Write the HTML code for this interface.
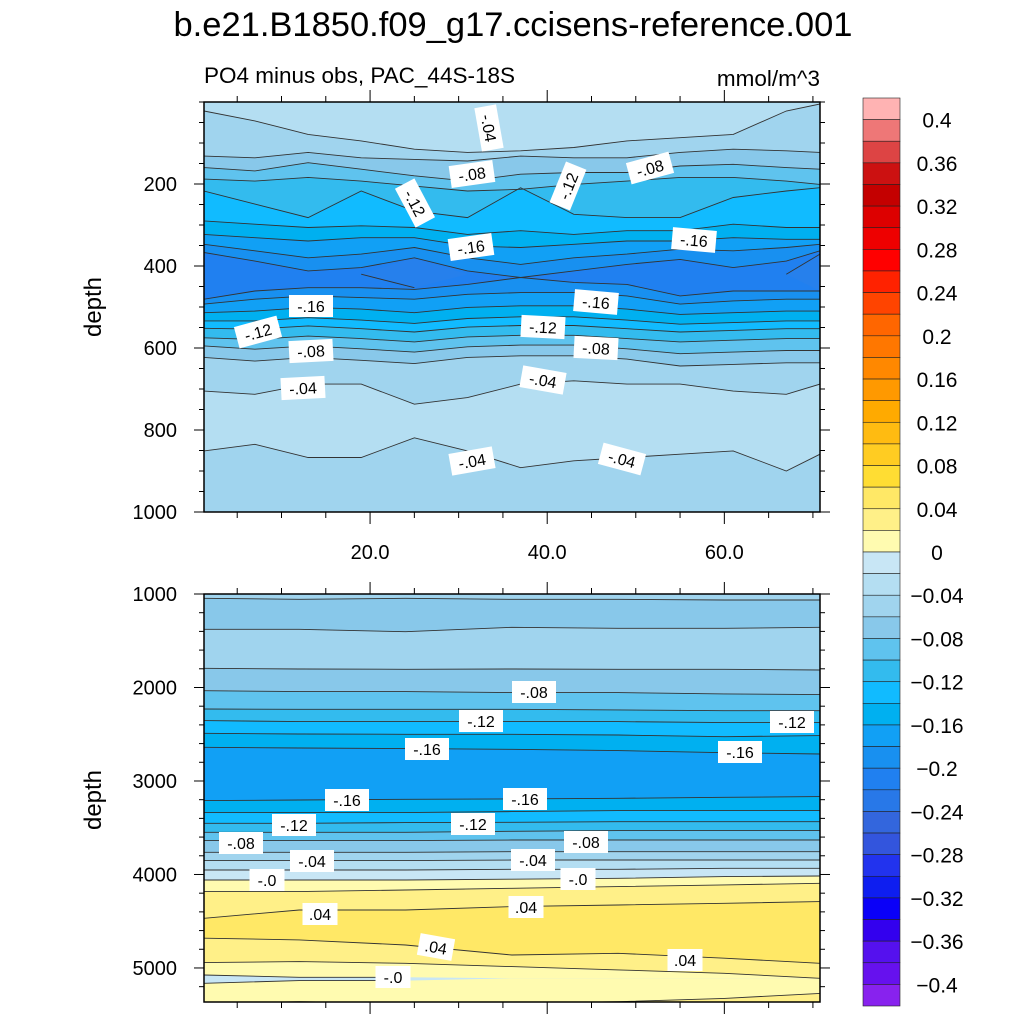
<!DOCTYPE html>
<html><head><meta charset="utf-8"><style>
html,body{margin:0;padding:0;background:#fff;}
svg{display:block;font-family:"Liberation Sans",sans-serif;}
</style></head><body>
<svg id="chart" width="1024" height="1024" viewBox="0 0 1024 1024" xmlns="http://www.w3.org/2000/svg">
<text x="513" y="36" font-size="34.5" text-anchor="middle">b.e21.B1850.f09_g17.ccisens-reference.001</text>
<text x="204" y="83" font-size="22.5">PO4 minus obs, PAC_44S-18S</text>
<text x="820" y="86" font-size="22.5" text-anchor="end">mmol/m^3</text>
<text transform="translate(101,307) rotate(-90)" font-size="24" text-anchor="middle">depth</text>
<text transform="translate(101,800) rotate(-90)" font-size="24" text-anchor="middle">depth</text>
<g id="top"></g><g id="bot"></g><g id="cbar"></g>
</svg>
<script>
// ---- data ----
const topXs = [1.25, 7, 13, 19, 25, 31, 37, 43, 49, 55, 61, 67, 70.8];
const topLevels = [-0.04,-0.06,-0.08,-0.10,-0.12,-0.14,-0.16,-0.18,-0.20,-0.22,-0.22,-0.20,-0.18,-0.16,-0.14,-0.12,-0.10,-0.08,-0.06,-0.04,-0.04];
const topBelow = ['#A0D4EE','#88C8EA','#5FC3EE','#33BBEE','#11BBFF','#00B0F0','#11A0F5','#1890F0','#2080F0','#2680EC','#2080F0','#1890F0','#11A0F5','#00B0F0','#11BBFF','#33BBEE','#5FC3EE','#88C8EA','#A0D4EE','#B4DEF2','#A0D4EE'];
const topDepths = [
 [22,46,79,95,115,123,119,111,95,87,79,22,5],
 [132,136,123,136,140,144,132,136,136,123,115,119,123],
 [160,168,148,164,180,193,176,172,172,156,152,160,164],
 [188,193,184,193,205,217,213,201,193,184,184,193,201],
 [217,249,282,217,266,282,209,274,282,282,233,217,209],
 [290,298,306,302,306,323,314,323,314,314,298,306,306],
 [323,331,339,331,331,351,355,347,339,339,331,335,335],
 [347,363,380,371,355,380,396,380,371,359,363,355,347],
 [367,388,412,404,380,412,428,412,396,384,404,388,363],
 [420,420,420,420,380,420,428,420,420,420,420,420,371],
 [420,420,420,420,453,420,428,420,420,420,420,420,461],
 [481,461,453,453,457,445,428,440,445,473,461,461,461],
 [493,481,473,477,481,469,465,465,473,493,485,481,481],
 [514,510,501,505,514,501,497,497,505,518,514,510,510],
 [534,534,526,532,540,528,524,524,532,542,538,534,534],
 [552,554,546,553,561,549,545,545,553,561,557,553,553],
 [575,579,571,577,585,573,569,569,577,585,581,577,577],
 [595,603,595,602,610,597,593,593,602,614,610,606,606],
 [623,632,623,630,638,623,619,619,627,644,640,636,636],
 [705,713,688,688,737,721,688,680,688,688,705,713,688],
 [851,835,867,867,819,851,892,875,867,859,851,900,859]
];
const botXs = [1.25, 12, 24, 36, 48, 60, 70.8];
const botBelow = ['#88C8EA','#A0D4EE','#88C8EA','#5FC3EE','#33BBEE','#11BBFF','#00B0F0','#11A0F5','#00B0F0','#11BBFF','#33BBEE','#5FC3EE','#88C8EA','#A0D4EE','#B4DEF2','#C8E6F5','#FFFBB0','#FFF088','#FFE866','#FFF088','#FFFBB0','#C8E6F5','#FFFBB0','#FFF088'];
const botDepths = [
 [1046,1057,1046,1057,1057,1064,1064],
 [1378,1378,1403,1356,1367,1367,1356],
 [1795,1802,1805,1802,1805,1805,1813],
 [2034,2044,2044,2055,2055,2069,2076],
 [2230,2233,2233,2233,2240,2248,2248],
 [2354,2365,2365,2365,2365,2376,2376],
 [2490,2497,2501,2501,2508,2526,2515],
 [2640,2647,2654,2661,2675,2697,2711],
 [3210,3203,3196,3192,3185,3174,3167],
 [3338,3338,3338,3328,3317,3317,3317],
 [3453,3453,3445,3442,3435,3435,3435],
 [3549,3549,3549,3538,3531,3531,3531],
 [3638,3638,3638,3631,3631,3631,3631],
 [3763,3763,3763,3756,3756,3756,3756],
 [3852,3852,3852,3845,3845,3845,3845],
 [3952,3952,3952,3945,3945,3934,3934],
 [4059,4059,4059,4051,4041,4023,4016],
 [4183,4183,4166,4148,4130,4112,4094],
 [4469,4380,4380,4344,4326,4308,4290],
 [4682,4700,4754,4861,4843,4896,4950],
 [4943,4932,4950,4985,5021,5057,5110],
 [5075,5100,5100,5110,5110,5110,5110],
 [5164,5135,5135,5110,5110,5110,5110],
 [5378,5361,5378,5378,5361,5325,5272]
];
const topLabels = [['-.04',489,128,80],['-.08',472,174,-8],['-.12',415,203,62],['-.12',568,186,-68],['-.08',650,168,-15],['-.16',471,247,-8],['-.16',694,240,5],['-.16',311,306,0],['-.16',596,302,5],['-.12',258,332,-15],['-.12',543,327,3],['-.08',311,351,-3],['-.08',596,348,3],['-.04',303,388,-3],['-.04',543,380,10],['-.04',472,461,-10],['-.04',622,459,15]];
const botLabels = [['-.08',534,692,0],['-.12',481,721,0],['-.12',792,722,0],['-.16',427,749,0],['-.16',740,752,0],['-.16',347,800,0],['-.16',525,799,0],['-.12',294,825,0],['-.12',473,824,0],['-.08',241,843,0],['-.08',586,842,0],['-.04',312,861,0],['-.04',533,860,0],['-.0',267,880,0],['-.0',578,879,0],['.04',320,914,0],['.04',526,907,0],['.04',436,947,10],['.04',685,960,0],['-.0',393,977,0]];
const cbColors = ['#FFB3B3','#EE7777','#DD4444','#CC1111','#C40000','#DD0000','#EE0000','#FF0000','#FF2200','#FF4400','#FF6600','#FF7700','#FF8800','#FF9900','#FFAA00','#FFBB11','#FFCC22','#FFDD33','#FFE866','#FFF088','#FFFBB0','#C8E6F5','#B4DEF2','#A0D4EE','#88C8EA','#5FC3EE','#33BBEE','#11BBFF','#00B0F0','#11A0F5','#1890F0','#2080F0','#2878E8','#3366DD','#3355DD','#2233EE','#0E1EF0','#0A00F8','#3300EE','#5511EE','#6611EE','#8822EE'];
const cbLabels = ['0.4','0.36','0.32','0.28','0.24','0.2','0.16','0.12','0.08','0.04','0','-0.04','-0.08','-0.12','-0.16','-0.2','-0.24','-0.28','-0.32','-0.36','-0.4'];
const topYTicks = [200,400,600,800,1000];
const botYTicks = [1000,2000,3000,4000,5000];
const xTicks = [20,40,60];

// ---- drawing ----
const NS='http://www.w3.org/2000/svg';
function mk(tag,attrs,parent){const e=document.createElementNS(NS,tag);for(const k in attrs)e.setAttribute(k,attrs[k]);parent.appendChild(e);return e;}
const X0=204,X1=820,xMin=1.25,xMax=70.8;
const sx=v=>X0+(v-xMin)/(xMax-xMin)*(X1-X0);

function panel(gid,Y0,Y1,dMin,dMax,xs,depths,below,topColor,labels,yTicks,minorStep,showX,name){
  const g=document.getElementById(gid);
  const sy=d=>Y0+(d-dMin)/(dMax-dMin)*(Y1-Y0);
  const cid='clip-'+gid;
  const defs=mk('defs',{},g);const cp=mk('clipPath',{id:cid},defs);mk('rect',{x:X0,y:Y0,width:X1-X0,height:Y1-Y0},cp);
  const fg=mk('g',{'clip-path':'url(#'+cid+')'},g);
  const bg=mk('rect',{x:X0,y:Y0,width:X1-X0,height:Y1-Y0,fill:topColor},fg);
  
  
  depths.forEach((arr,i)=>{
    let pts=xs.map((x,j)=>sx(x).toFixed(1)+','+sy(arr[j]).toFixed(1));
    pts.push(X1+','+(Y1+5),X0+','+(Y1+5));
    const p=mk('polygon',{points:pts.join(' '),fill:below[i]},fg);
    
    
  });
  // contour lines: only draw segments where the line is not coincident with the previous (zero-thickness) one
  depths.forEach((arr,i)=>{
    const prev=depths[i-1], next=depths[i+1];
    let seg=[];
    const flush=()=>{ if(seg.length>1){
      const l=mk('polyline',{points:seg.join(' '),fill:'none',stroke:'#333','stroke-width':0.9},fg);
      
      
    } seg=[]; };
    xs.forEach((x,j)=>{
      const flat=(prev&&prev[j]===arr[j]&&((j>0&&prev[j-1]===arr[j-1])||(j<xs.length-1&&prev[j+1]===arr[j+1])))||
                 (next&&next[j]===arr[j]&&((j>0&&next[j-1]===arr[j-1])||(j<xs.length-1&&next[j+1]===arr[j+1])));
      const coincident=(prev&&prev[j]===arr[j])||(next&&next[j]===arr[j]);
      seg.push(sx(x).toFixed(1)+','+sy(arr[j]).toFixed(1));
      if(coincident && j>0){
        const pj=j-1;
        const prevCo=(prev&&prev[pj]===arr[pj])||(next&&next[pj]===arr[pj]);
        if(prevCo){ seg.pop(); seg.pop(); flush(); seg.push(sx(x).toFixed(1)+','+sy(arr[j]).toFixed(1)); }
      }
    });
    flush();
  });
  labels.forEach(([t,x,y,r])=>{
    const lg=mk('g',{transform:`translate(${x},${y}) rotate(${r})`},g);
    
    
    const w=t.length*9+8;
    mk('rect',{x:-w/2,y:-11,width:w,height:22,fill:'#fff'},lg);
    const tx=mk('text',{x:0,y:6,'font-size':16,'text-anchor':'middle'},lg);tx.textContent=t;
  });
  const fr=mk('rect',{x:X0,y:Y0,width:X1-X0,height:Y1-Y0,fill:'none',stroke:'#000','stroke-width':1.5},g);
  
  
  for(let d=Math.ceil(dMin/minorStep)*minorStep;d<=dMax;d+=minorStep){
    const major=yTicks.includes(d);const L=major?10:5;const y=sy(d);
    mk('line',{x1:X0,x2:X0-L,y1:y,y2:y,stroke:'#000','stroke-width':1},g);
    mk('line',{x1:X1,x2:X1+L,y1:y,y2:y,stroke:'#000','stroke-width':1},g);
  }
  yTicks.forEach(d=>{const t=mk('text',{x:X0-27,y:sy(d)+7,'font-size':20,'text-anchor':'end'},g);t.textContent=d;
    
    });
  for(let v=5;v<=70;v+=5){
    const major=xTicks.includes(v);const L=major?12:6;const x=sx(v);
    mk('line',{x1:x,x2:x,y1:Y0,y2:Y0-L,stroke:'#000','stroke-width':1},g);
    mk('line',{x1:x,x2:x,y1:Y1,y2:Y1+L,stroke:'#000','stroke-width':1},g);
  }
  if(showX) xTicks.forEach(v=>{const t=mk('text',{x:sx(v),y:Y1+47,'font-size':20,'text-anchor':'middle'},g);t.textContent=v.toFixed(1);
    
    });
}
panel('top',102,512,0,1000,topXs,topDepths,topBelow,'#B4DEF2',topLabels,topYTicks,50,true,'top-panel');
panel('bot',594,1002,1000,5364,botXs,botDepths,botBelow,'#A0D4EE',botLabels,botYTicks,200,false,'bottom-panel');

const cb=document.getElementById('cbar');
const CB0=98,CB1=1006,bh=(CB1-CB0)/cbColors.length;
cbColors.forEach((c,i)=>{
  const r=mk('rect',{x:863,y:CB0+i*bh,width:37,height:bh,fill:c,stroke:'#222','stroke-width':0.6},cb);
  
  
});
cbLabels.forEach((t,i)=>{
  const tx=mk('text',{x:937,y:CB0+(1+2*i)*bh+8,'font-size':21,'text-anchor':'middle'},cb);tx.textContent=t.replace('-','\u2212');
  
  
});
</script>
</body></html>
